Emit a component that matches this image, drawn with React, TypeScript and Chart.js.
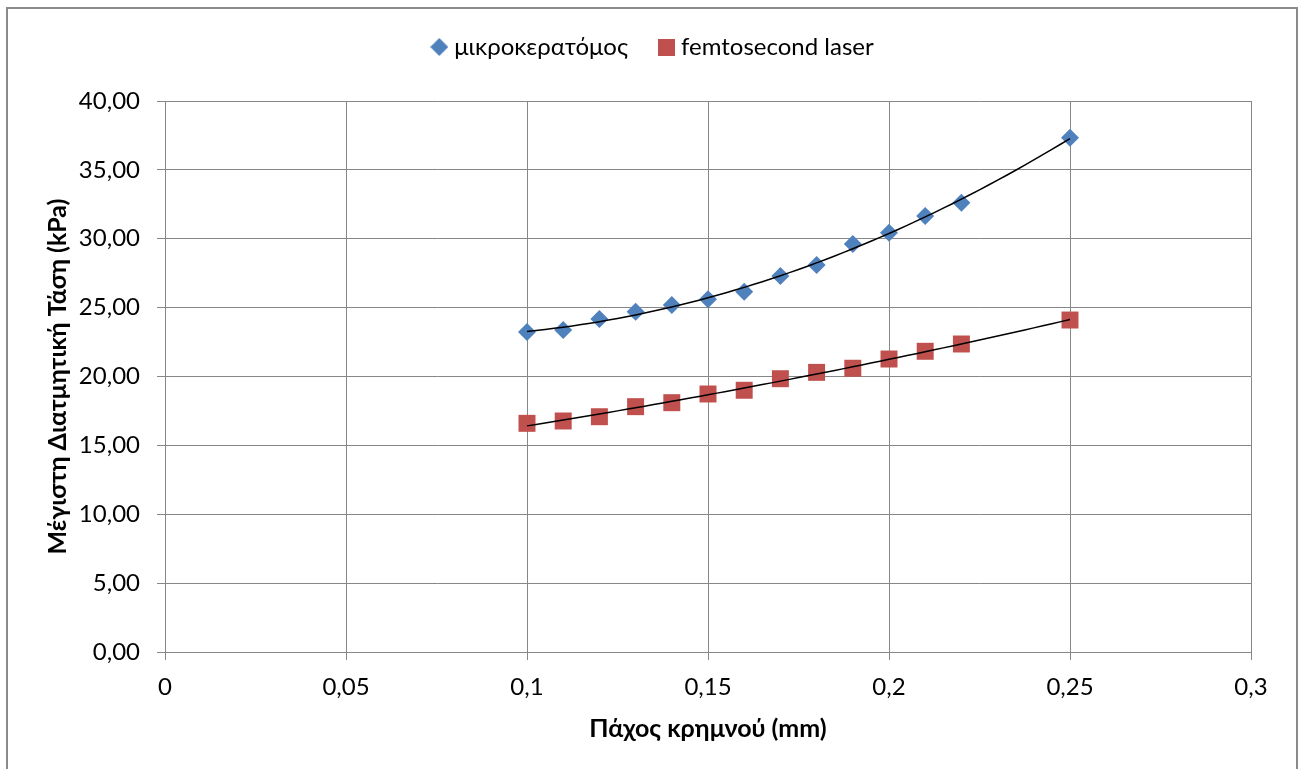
import React, { useEffect, useRef } from "react";
import { Chart, registerables } from "chart.js";

Chart.register(...registerables);

// ---- Data ----
const xValues = [0.1, 0.11, 0.12, 0.13, 0.14, 0.15, 0.16, 0.17, 0.18, 0.19, 0.2, 0.21, 0.22, 0.25];
const microkeratomeValues = [23.23, 23.37, 24.17, 24.7, 25.19, 25.6, 26.16, 27.3, 28.1, 29.62, 30.44, 31.65, 32.62, 37.34];
const femtosecondValues = [16.6, 16.77, 17.08, 17.81, 18.1, 18.73, 19.0, 19.84, 20.3, 20.6, 21.27, 21.83, 22.36, 24.1];
const seriesLabels = ["μικροκερατόμος", "femtosecond laser"];
const xTickValues = [0, 0.05, 0.1, 0.15, 0.2, 0.25, 0.3];
const yTickValues = [0, 5, 10, 15, 20, 25, 30, 35, 40];
const xTitle = "Πάχος κρημνού (mm)";
const yTitle = "Μέγιστη Διατμητική Τάση (kPa)";

const BLUE = "#4F81BD";
const RED = "#C0504D";
const GRID = "#878787";
const FONT = "Lato, 'Open Sans', sans-serif";

// Least-squares 2nd-order polynomial trendline (as Excel's trendline)
function polyfit2(xs: number[], ys: number[]): [number, number, number] {
  let n = xs.length, sx = 0, sx2 = 0, sx3 = 0, sx4 = 0, sy = 0, sxy = 0, sx2y = 0;
  for (let i = 0; i < n; i++) {
    const x = xs[i], y = ys[i];
    sx += x; sx2 += x * x; sx3 += x * x * x; sx4 += x * x * x * x;
    sy += y; sxy += x * y; sx2y += x * x * y;
  }
  const M = [
    [n, sx, sx2, sy],
    [sx, sx2, sx3, sxy],
    [sx2, sx3, sx4, sx2y],
  ];
  for (let c = 0; c < 3; c++) {
    let p = c;
    for (let r = c + 1; r < 3; r++) if (Math.abs(M[r][c]) > Math.abs(M[p][c])) p = r;
    [M[c], M[p]] = [M[p], M[c]];
    for (let r = 0; r < 3; r++) {
      if (r === c) continue;
      const f = M[r][c] / M[c][c];
      for (let k = c; k < 4; k++) M[r][k] -= f * M[c][k];
    }
  }
  return [M[0][3] / M[0][0], M[1][3] / M[1][1], M[2][3] / M[2][2]];
}

function trend(xs: number[], ys: number[]) {
  const [a, b, c] = polyfit2(xs, ys);
  const x0 = Math.min(...xs), x1 = Math.max(...xs);
  const pts: { x: number; y: number }[] = [];
  const steps = 60;
  for (let i = 0; i <= steps; i++) {
    const x = x0 + ((x1 - x0) * i) / steps;
    pts.push({ x, y: a + b * x + c * x * x });
  }
  return pts;
}

function markerCanvas(kind: "diamond" | "square", color: string) {
  const c = document.createElement("canvas");
  const s = kind === "diamond" ? 18 : 17;
  c.width = s;
  c.height = s;
  const g = c.getContext("2d")!;
  g.fillStyle = color;
  if (kind === "diamond") {
    g.beginPath();
    g.moveTo(s / 2, 0);
    g.lineTo(s, s / 2);
    g.lineTo(s / 2, s);
    g.lineTo(0, s / 2);
    g.closePath();
    g.fill();
  } else {
    g.fillRect(0, 0, s, s);
  }
  return c;
}

const fmt = (v: number, d: number) => v.toFixed(d).replace(".", ",");

// Keeps the legend box tall enough so that the plot area starts at the reference's top edge
const legendHeightPlugin = {
  id: "legendHeight",
  afterInit(chart: any) {
    const lg = chart.legend;
    if (!lg) return;
    const orig = lg.fit.bind(lg);
    lg.fit = function () {
      orig();
      lg.height = 101;
    };
  },
};

export default function App() {
  const ref = useRef<HTMLCanvasElement>(null);

  useEffect(() => {
    const canvas = ref.current!;
    const legendMarkers = [markerCanvas("diamond", BLUE), markerCanvas("square", RED)];
    const pts = (ys: number[]) => xValues.map((x, i) => ({ x, y: ys[i] }));

    const chart = new Chart(canvas, {
      type: "scatter",
      plugins: [legendHeightPlugin],
      data: {
        datasets: [
          {
            label: seriesLabels[0],
            data: pts(microkeratomeValues),
            pointStyle: "rectRot",
            pointRadius: 9,
            pointHoverRadius: 9,
            backgroundColor: BLUE,
            borderColor: BLUE,
            borderWidth: 0,
            order: 1,
          },
          {
            label: seriesLabels[1],
            data: pts(femtosecondValues),
            pointStyle: "rect",
            pointRadius: 12,
            pointHoverRadius: 12,
            backgroundColor: RED,
            borderColor: RED,
            borderWidth: 0,
            order: 1,
          },
          {
            label: "trend1",
            data: trend(xValues, microkeratomeValues),
            showLine: true,
            pointRadius: 0,
            borderColor: "#000",
            borderWidth: 1.5,
            tension: 0,
            order: 0,
          },
          {
            label: "trend2",
            data: trend(xValues, femtosecondValues),
            showLine: true,
            pointRadius: 0,
            borderColor: "#000",
            borderWidth: 1.5,
            tension: 0,
            order: 0,
          },
        ] as any,
      },
      options: {
        animation: false,
        responsive: false,
        maintainAspectRatio: false,
        layout: { padding: { left: 10, right: 0, top: 0, bottom: 10 } },
        plugins: {
          tooltip: { enabled: false },
          legend: {
            display: true,
            position: "top",
            labels: {
              usePointStyle: true,
              boxWidth: 6,
              boxHeight: 18,
              padding: 35,
              color: "#000",
              font: { family: FONT, size: 24 },
              generateLabels: (ch: any) => {
                const base = Chart.defaults.plugins.legend.labels.generateLabels(ch);
                return base
                  .filter((l: any) => l.datasetIndex < 2)
                  .map((l: any) => ({ ...l, pointStyle: legendMarkers[l.datasetIndex], lineWidth: 0 }));
              },
            },
          },
        },
        scales: {
          x: {
            type: "linear",
            min: 0,
            max: 0.3,
            afterBuildTicks: (s: any) => {
              s.ticks = xTickValues.map((v) => ({ value: v }));
            },
            afterFit: (s: any) => {
              s.height = 769 - 652 - 10;
              s.paddingRight = 49;
            },
            ticks: {
              color: "#000",
              font: { family: FONT, size: 24 },
              padding: 13,
              maxRotation: 0,
              callback: (v: any) => fmt(Number(v), Number(v) === 0 ? 0 : (Math.round(Number(v) * 100) % 10 === 0 ? 1 : 2)),
            },
            grid: { color: GRID, lineWidth: 1, tickLength: 8, drawTicks: true },
            border: { color: GRID, width: 1 },
            title: {
              display: true,
              text: xTitle,
              color: "#000",
              font: { family: FONT, size: 25, weight: "bold" },
              padding: { top: 0, bottom: 15 },
            },
          },
          y: {
            type: "linear",
            min: 0,
            max: 40,
            afterBuildTicks: (s: any) => {
              s.ticks = yTickValues.map((v) => ({ value: v }));
            },
            afterFit: (s: any) => {
              s.width = 165 - 10;
            },
            ticks: {
              color: "#000",
              font: { family: FONT, size: 24 },
              padding: 17,
              callback: (v: any) => fmt(Number(v), 2),
            },
            grid: { color: GRID, lineWidth: 1, tickLength: 8, drawTicks: true },
            border: { color: GRID, width: 1 },
            title: {
              display: true,
              text: yTitle,
              color: "#000",
              font: { family: FONT, size: 25, weight: "bold" },
              padding: { top: 33, bottom: 0 },
            },
          },
        },
      },
    } as any);

    return () => chart.destroy();
  }, []);

  return (
    <div style={{ position: "absolute", left: 0, top: 0, width: 1300, height: 769, background: "#fff", overflow: "hidden" }}>
      <canvas ref={ref} width={1300} height={769} style={{ position: "absolute", left: 0, top: 0, width: 1300, height: 769 }} />
      <div
        style={{
          position: "absolute",
          left: 6,
          top: 7,
          width: 1288,
          height: 800,
          border: "2px solid #8a8a8a",
          pointerEvents: "none",
        }}
      />
    </div>
  );
}
